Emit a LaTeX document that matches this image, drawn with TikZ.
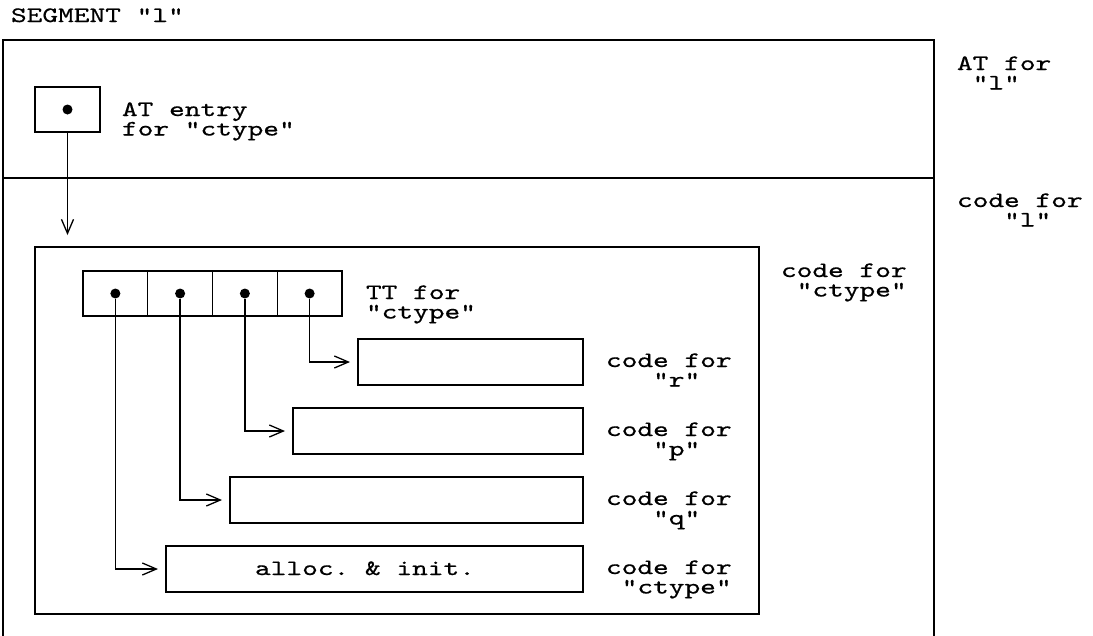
\documentclass[tikz,border=0pt]{standalone}
\usepackage{fontspec}
\setmonofont{lmmono10-regular.otf}[FakeStretch=1.36, FakeBold=0.6]
\usetikzlibrary{arrows.meta}
% two stacked lines with a fixed baseline pitch; baseline = first line
\newcommand\twolines[2]{\vtop{\lineskiplimit=-100pt\baselineskip=19.5pt\hbox{#1}\hbox{#2}}}

\begin{document}
\begin{tikzpicture}[x=1pt,y=-1pt,
  every node/.style={inner sep=0pt, outer sep=0pt},
  frame/.style={draw, line width=1.3pt, anchor=north west},
  txt/.style={anchor=base west, font=\ttfamily\fontsize{22}{19.5}\selectfont},
  conn/.style={line width=1.3pt,
    -{Straight Barb[length=14pt,width=12pt,line width=1.3pt]},
    shorten >=8pt},
  dot/.style={circle, fill, minimum size=10pt}]

\useasboundingbox (0,0) rectangle (1093,635);
\clip (0,0) rectangle (1093,635);

% segment frame, split into the AT part and the code part
\node[txt] (seglbl) at (11,22) {SEGMENT "l"};
\node[frame, minimum width=931pt, minimum height=640pt] (seg) at (3,40) {};
\coordinate (divL) at (3,178);
\coordinate (divR) at (934,178);
\draw[line width=1.3pt] (divL) -- (divR);

\node[txt] (atfor) at (957,70) {\twolines{AT for}{\phantom{x}"l"}};
\node[txt] (codel) at (957,207) {\twolines{code for}{\phantom{xxx}"l"}};

% AT entry
\node[frame, minimum width=65pt, minimum height=45pt] (atbox) at (35,87) {};
\node[dot] (atdot) at (atbox.center) {};
\node[txt] (atlbl) at (122,116) {\twolines{AT entry}{for "ctype"}};

% code for "ctype"
\node[frame, minimum width=724pt, minimum height=367pt] (ctbox) at (35,247) {};
\node[txt] (ctlbl) at (781,277) {\twolines{code for}{\phantom{x}"ctype"}};

\draw[conn, shorten >=12pt] (atbox.south) -- (atbox.south |- ctbox.north);

% transfer table
\foreach \i/\x in {1/83, 2/147.75, 3/212.5, 4/277.25}{
  \node[frame, minimum width=64.75pt, minimum height=45pt] (tt\i) at (\x,271) {};
  \node[dot] (d\i) at (tt\i.center) {};
}
\node[txt] (ttlbl) at (366,299) {\twolines{TT for}{"ctype"}};

% code blocks
\node[frame, minimum width=225pt, minimum height=46pt] (rbox) at (358,339) {};
\node[frame, minimum width=290pt, minimum height=46pt] (pbox) at (293,408) {};
\node[frame, minimum width=353pt, minimum height=46pt] (qbox) at (230,477) {};
\node[frame, minimum width=417pt, minimum height=46pt] (cbox) at (166,546) {};
\node[txt, anchor=base] (alloc) at ([xshift=-9.5pt,yshift=-6pt]cbox.center) {alloc. \& init.};

\node[txt] (rlbl) at (606,367) {\twolines{code for}{\phantom{xxx}"r"}};
\node[txt] (plbl) at (606,436) {\twolines{code for}{\phantom{xxx}"p"}};
\node[txt] (qlbl) at (606,505) {\twolines{code for}{\phantom{xxx}"q"}};
\node[txt] (clbl) at (606,574) {\twolines{code for}{\phantom{x}"ctype"}};

% table entries pointing at their code
\draw[conn] (d4) |- (rbox.west);
\draw[conn] (d3) |- (pbox.west);
\draw[conn] (d2) |- (qbox.west);
\draw[conn] (d1) |- (cbox.west);

\end{tikzpicture}
\end{document}
